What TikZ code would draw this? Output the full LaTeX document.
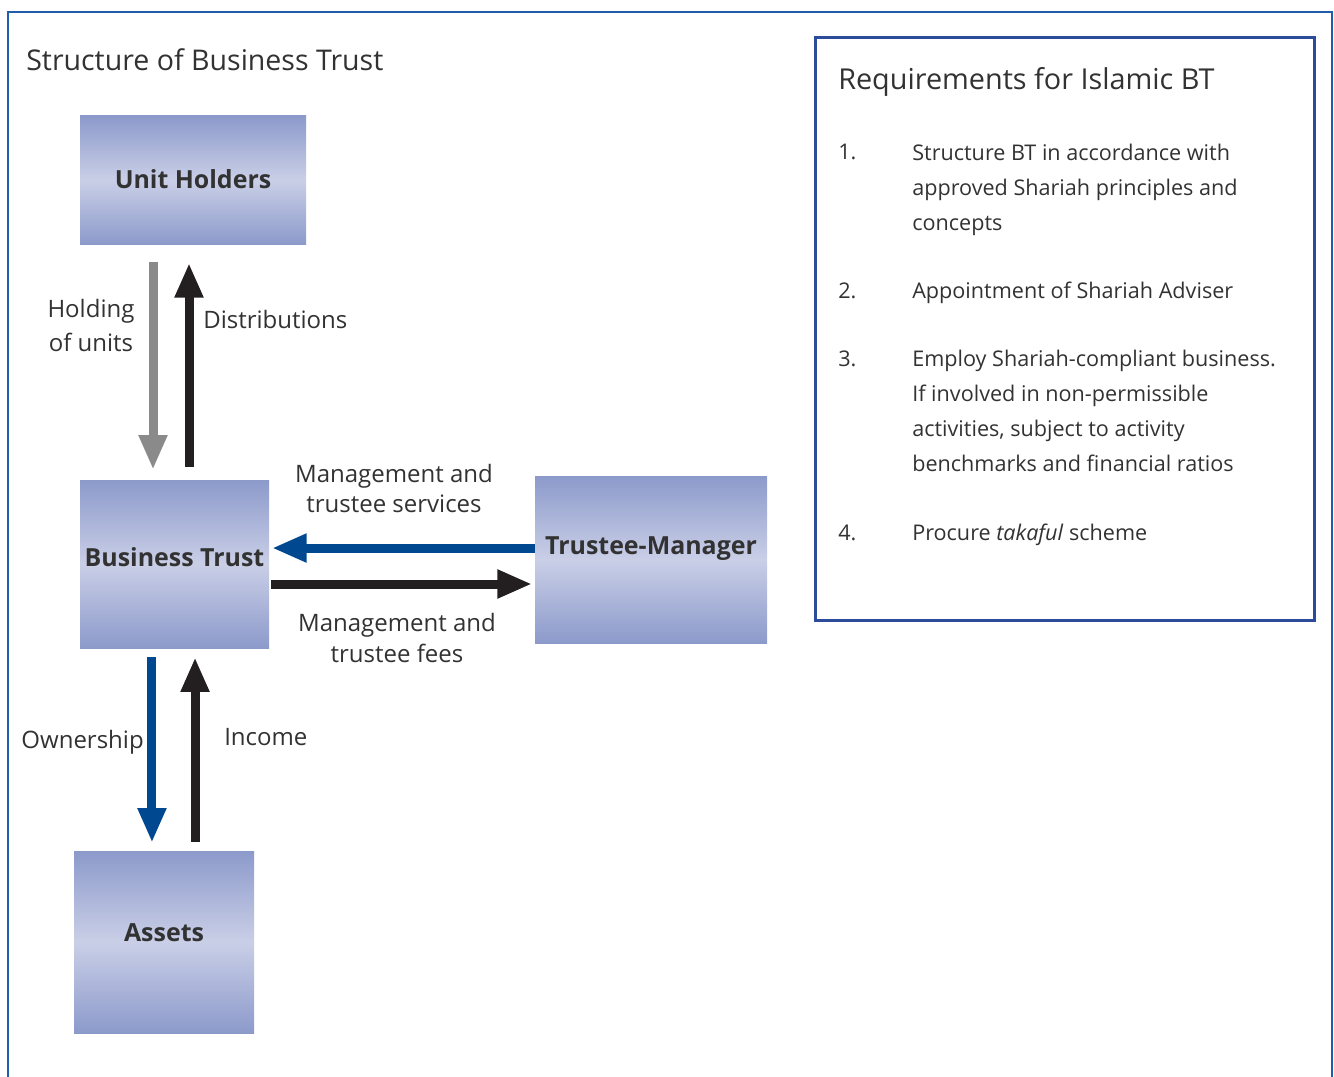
\documentclass[tikz,border=0pt]{standalone}
\usepackage{fontspec}
\setmainfont{Open Sans}
\usetikzlibrary{calc,arrows.meta}

\definecolor{boxdark}{RGB}{140,154,203}
\definecolor{boxlight}{RGB}{202,207,231}
\definecolor{bluearrow}{RGB}{0,73,144}
\definecolor{grayarrow}{RGB}{138,138,138}
\definecolor{blackarrow}{RGB}{35,31,32}
\definecolor{framecol}{RGB}{31,94,168}
\definecolor{reqcol}{RGB}{45,75,155}
\definecolor{txt}{RGB}{50,50,50}

\begin{document}
\begin{tikzpicture}[x=0.75pt,y=-0.75pt,
    party/.style={rectangle, inner sep=0pt, top color=boxdark, bottom color=boxdark, middle color=boxlight,
      text=txt, font=\fontsize{18.7}{20}\selectfont\bfseries, text height=13.4pt, text depth=0pt},
    flow/.style={line width=6.75pt, -{Triangle[length=26pt,width=20pt]}},
    lbl/.style={text=txt, font=\fontsize{18}{23.25}\selectfont, inner sep=0pt, align=center},
    reqtext/.style={text=txt, font=\fontsize{16.2}{26.25}\selectfont, inner sep=0pt, align=left}]
	%page size and open outer frame
	\useasboundingbox (0,0) rectangle (1334,1077);
	\draw[framecol, line width=1.5pt] (8,1077) -- (8,12) -- (1332,12) -- (1332,1077);

	%the four parties
	\node[anchor=base west, text=txt, font=\fontsize{21.4}{24}\selectfont, inner sep=0pt] (title) at (26,71) {Structure of Business Trust};
	\node[party, minimum width=169.5pt, minimum height=96pt] (uh) at (193,180) {Unit Holders};
	\node[party, minimum width=141.75pt, minimum height=126pt, text depth=10pt] (bt) at (174.5,564) {Business Trust};
	\node[party, minimum width=174pt, minimum height=125.25pt, text depth=21pt] (tm) at (651,559.5) {Trustee-Manager};
	\node[party, minimum width=135pt, minimum height=136.5pt, text depth=13.5pt] (as) at (164,942) {Assets};

	%% flows between the parties
	\draw[flow, grayarrow, shorten <=13.5pt, shorten >=7.5pt] ([xshift=-30pt]uh.south) -- ([xshift=-30pt]uh.south |- bt.north);
	\draw[flow, blackarrow, shorten <=9.75pt, shorten >=14pt] ([xshift=-3pt]uh.south |- bt.north) -- ([xshift=-3pt]uh.south);
	\draw[flow, bluearrow, shorten >=2pt] ([yshift=8.6pt]tm.west) -- ([yshift=8.6pt]tm.west -| bt.east);
	\draw[flow, blackarrow, shorten <=1.5pt, shorten >=2pt] ([yshift=-15pt]bt.east) -- ([yshift=-15pt]bt.east -| tm.west);
	\draw[flow, bluearrow, shorten <=6.75pt, shorten >=6pt] ([xshift=-16.9pt]bt.south) -- ([xshift=-16.9pt]bt.south |- as.north);
	\draw[flow, blackarrow, shorten <=6.75pt, shorten >=6.75pt] ([xshift=15.4pt]bt.south |- as.north) -- ([xshift=15.4pt]bt.south);

	%% labels of the flows (multi-line ones sit on their last line)
	\node[lbl, anchor=base, font=\fontsize{18}{25.5}\selectfont] (hold) at (91,351) {Holding\\of units};
	\node[lbl, anchor=base west] (dist) at (203,328) {Distributions};
	\node[lbl, anchor=base, font=\fontsize{18}{22}\selectfont] (serv) at (394,512) {Management and\\trustee services};
	\node[lbl, anchor=base] (fees) at (397,662.5) {Management and\\trustee fees};
	\node[lbl, anchor=base east] (own) at (144,748) {Ownership};
	\node[lbl, anchor=base west] (inc) at (224,745) {Income};

	%requirements box
	\node[draw=reqcol, line width=2.25pt, minimum width=374.25pt, minimum height=436.5pt, inner sep=0pt] (req) at (1064.5,329) {};
	\node[anchor=base west, text=txt, font=\fontsize{21.6}{24}\selectfont, inner sep=0pt] (reqtitle) at (838,90) {Requirements for Islamic BT};
	\foreach \n/\y/\l/\t in {1/160/230/{Structure BT in accordance with\\approved Shariah principles and\\concepts},
	    2/298/298/{Appointment of Shariah Adviser},
	    3/366/471/{Employ Shariah-compliant business.\\If involved in non-permissible\\activities, subject to activity\\benchmarks and financial ratios},
	    4/540/540/{Procure \textit{takaful} scheme}}{
		\node[reqtext, anchor=base west] (num\n) at (838,\y) {\n.};
		\node[reqtext, anchor=base west] (item\n) at (912,\l) {\t};
		}
\end{tikzpicture}
\end{document}
